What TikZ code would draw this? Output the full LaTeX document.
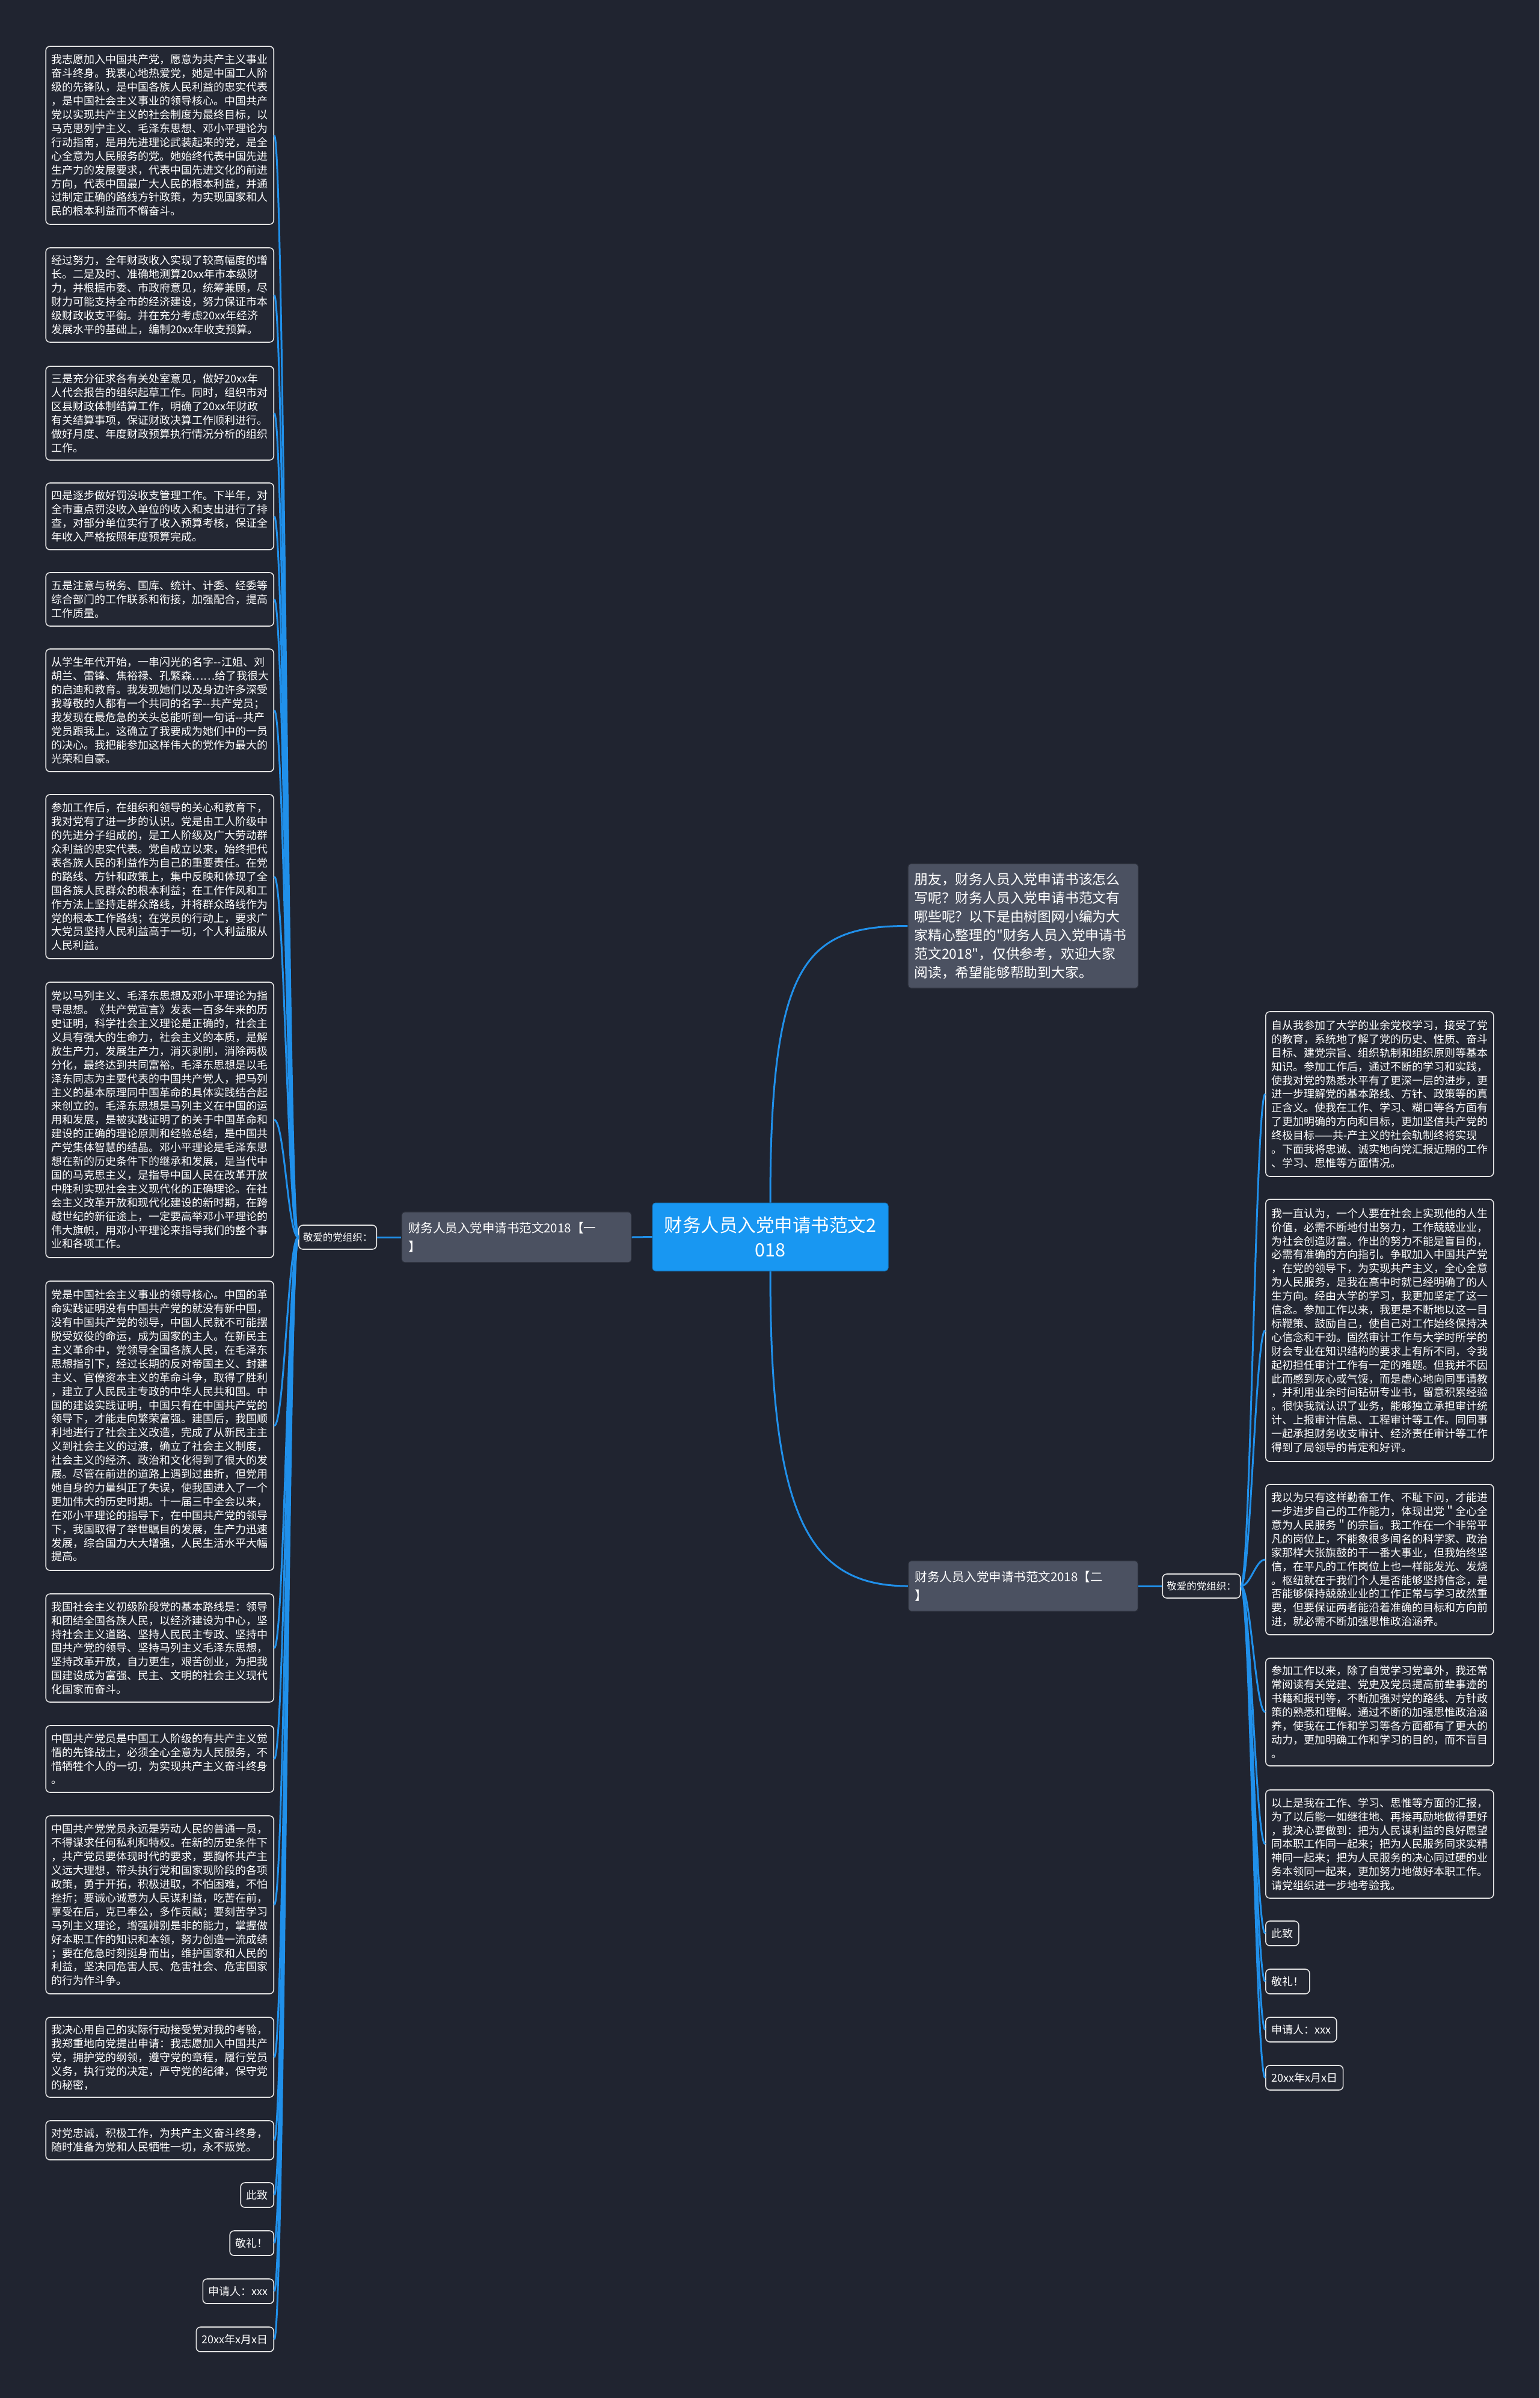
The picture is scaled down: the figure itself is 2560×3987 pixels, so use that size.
\documentclass[tikz,border=0pt]{standalone}
\usepackage{fontspec}
\setmainfont{Noto Sans CJK SC}
\newfontfamily\cjkfont{Noto Sans CJK SC}
\definecolor{bgcol}{HTML}{202430}
\definecolor{leaffill}{HTML}{232733}
\definecolor{leafline}{HTML}{E4E4E4}
\definecolor{branchgray}{HTML}{4B5161}
\definecolor{branchline}{HTML}{2B2F3A}
\definecolor{mainblue}{HTML}{1897F2}
\definecolor{linkblue}{HTML}{2090EA}
\tikzset{
  leaf/.style={draw=leafline, fill=leaffill, line width=1.6pt, rounded corners=7pt,
    text=white, font=\cjkfont\fontsize{18pt}{22.9pt}\selectfont,
    inner xsep=9.5pt, inner ysep=0pt, minimum height=41pt},
  para/.style={leaf, text width=360pt, align=left},
  dear/.style={leaf, font=\cjkfont\fontsize{16.5pt}{20pt}\selectfont, inner xsep=7pt, minimum height=40pt},
  branch/.style={draw=branchline, fill=branchgray, line width=1.2pt, rounded corners=5pt,
    text=white, font=\cjkfont\fontsize{20.5pt}{31pt}\selectfont,
    text width=360pt, align=left, inner xsep=11pt, inner ysep=0pt, minimum height=84pt},
  intro/.style={branch, font=\cjkfont\fontsize{22.8pt}{31pt}\selectfont,
    text width=362pt, inner xsep=10.5pt, minimum height=207pt},
  root/.style={draw=mainblue!80!black, fill=mainblue, line width=1pt, rounded corners=5pt,
    text=white, font=\cjkfont\fontsize{30.5pt}{40.6pt}\selectfont,
    text width=370pt, align=center, inner xsep=11pt, inner ysep=0pt, minimum height=113pt},
  link/.style={draw=linkblue, line width=3pt}
}
\begin{document}
\begin{tikzpicture}[x=1pt, y=-1pt]
\fill[bgcol] (0,0) rectangle (2560,3987);
\useasboundingbox (0,0) rectangle (2560,3987);

% centre and branches
\node[root] (center) at (1281,2056.5) {财务人员入党申请书范文2\\018};
\node[branch] (b1) at (859,2057) {财务人员入党申请书范文2018【一\\】};
\node[dear] (dear1) at (561.5,2057) {敬爱的党组织：};
\node[intro] (intro) at (1701.5,1539.5) {朋友，财务人员入党申请书该怎么\\写呢？财务人员入党申请书范文有\\哪些呢？以下是由树图网小编为大\\家精心整理的"财务人员入党申请书\\范文2018"，仅供参考，欢迎大家\\阅读，希望能够帮助到大家。};
\node[branch] (b2) at (1701.5,2637) {财务人员入党申请书范文2018【二\\】};
\node[dear] (dear2) at (1998,2637) {敬爱的党组织：};

% left leaves
\node[para, anchor=east, minimum height=296pt] (l1) at (456,225) {我志愿加入中国共产党，愿意为共产主义事业\\奋斗终身。我衷心地热爱党，她是中国工人阶\\级的先锋队，是中国各族人民利益的忠实代表\\，是中国社会主义事业的领导核心。中国共产\\党以实现共产主义的社会制度为最终目标，以\\马克思列宁主义、毛泽东思想、邓小平理论为\\行动指南，是用先进理论武装起来的党，是全\\心全意为人民服务的党。她始终代表中国先进\\生产力的发展要求，代表中国先进文化的前进\\方向，代表中国最广大人民的根本利益，并通\\过制定正确的路线方针政策，为实现国家和人\\民的根本利益而不懈奋斗。};
\node[para, anchor=east, minimum height=157pt] (l2) at (456,490.5) {经过努力，全年财政收入实现了较高幅度的增\\长。二是及时、准确地测算20xx年市本级财\\力，并根据市委、市政府意见，统筹兼顾，尽\\财力可能支持全市的经济建设，努力保证市本\\级财政收支平衡。并在充分考虑20xx年经济\\发展水平的基础上，编制20xx年收支预算。};
\node[para, anchor=east, minimum height=156pt] (l3) at (456,687) {三是充分征求各有关处室意见，做好20xx年\\人代会报告的组织起草工作。同时，组织市对\\区县财政体制结算工作，明确了20xx年财政\\有关结算事项，保证财政决算工作顺利进行。\\做好月度、年度财政预算执行情况分析的组织\\工作。};
\node[para, anchor=east, minimum height=111pt] (l4) at (456,858.5) {四是逐步做好罚没收支管理工作。下半年，对\\全市重点罚没收入单位的收入和支出进行了排\\查，对部分单位实行了收入预算考核，保证全\\年收入严格按照年度预算完成。};
\node[para, anchor=east, minimum height=89pt] (l5) at (456,996.5) {五是注意与税务、国库、统计、计委、经委等\\综合部门的工作联系和衔接，加强配合，提高\\工作质量。};
\node[para, anchor=east, minimum height=204pt] (l6) at (456,1181) {从学生年代开始，一串闪光的名字-{}-江姐、刘\\胡兰、雷锋、焦裕禄、孔繁森……给了我很大\\的启迪和教育。我发现她们以及身边许多深受\\我尊敬的人都有一个共同的名字-{}-共产党员；\\我发现在最危急的关头总能听到一句话-{}-共产\\党员跟我上。这确立了我要成为她们中的一员\\的决心。我把能参加这样伟大的党作为最大的\\光荣和自豪。};
\node[para, anchor=east, minimum height=273pt] (l7) at (456,1457.5) {参加工作后，在组织和领导的关心和教育下，\\我对党有了进一步的认识。党是由工人阶级中\\的先进分子组成的，是工人阶级及广大劳动群\\众利益的忠实代表。党自成立以来，始终把代\\表各族人民的利益作为自己的重要责任。在党\\的路线、方针和政策上，集中反映和体现了全\\国各族人民群众的根本利益；在工作作风和工\\作方法上坚持走群众路线，并将群众路线作为\\党的根本工作路线；在党员的行动上，要求广\\大党员坚持人民利益高于一切，个人利益服从\\人民利益。};
\node[para, anchor=east, minimum height=458pt] (l8) at (456,1862) {党以马列主义、毛泽东思想及邓小平理论为指\\导思想。《共产党宣言》发表一百多年来的历\\史证明，科学社会主义理论是正确的，社会主\\义具有强大的生命力，社会主义的本质，是解\\放生产力，发展生产力，消灭剥削，消除两极\\分化，最终达到共同富裕。毛泽东思想是以毛\\泽东同志为主要代表的中国共产党人，把马列\\主义的基本原理同中国革命的具体实践结合起\\来创立的。毛泽东思想是马列主义在中国的运\\用和发展，是被实践证明了的关于中国革命和\\建设的正确的理论原则和经验总结，是中国共\\产党集体智慧的结晶。邓小平理论是毛泽东思\\想在新的历史条件下的继承和发展，是当代中\\国的马克思主义，是指导中国人民在改革开放\\中胜利实现社会主义现代化的正确理论。在社\\会主义改革开放和现代化建设的新时期，在跨\\越世纪的新征途上，一定要高举邓小平理论的\\伟大旗帜，用邓小平理论来指导我们的整个事\\业和各项工作。};
\node[para, anchor=east, minimum height=481pt] (l9) at (456,2370.5) {党是中国社会主义事业的领导核心。中国的革\\命实践证明没有中国共产党的就没有新中国，\\没有中国共产党的领导，中国人民就不可能摆\\脱受奴役的命运，成为国家的主人。在新民主\\主义革命中，党领导全国各族人民，在毛泽东\\思想指引下，经过长期的反对帝国主义、封建\\主义、官僚资本主义的革命斗争，取得了胜利\\，建立了人民民主专政的中华人民共和国。中\\国的建设实践证明，中国只有在中国共产党的\\领导下，才能走向繁荣富强。建国后，我国顺\\利地进行了社会主义改造，完成了从新民主主\\义到社会主义的过渡，确立了社会主义制度，\\社会主义的经济、政治和文化得到了很大的发\\展。尽管在前进的道路上遇到过曲折，但党用\\她自身的力量纠正了失误，使我国进入了一个\\更加伟大的历史时期。十一届三中全会以来，\\在邓小平理论的指导下，在中国共产党的领导\\下，我国取得了举世瞩目的发展，生产力迅速\\发展，综合国力大大增强，人民生活水平大幅\\提高。};
\node[para, anchor=east, minimum height=180pt] (l10) at (456,2740) {我国社会主义初级阶段党的基本路线是：领导\\和团结全国各族人民，以经济建设为中心，坚\\持社会主义道路、坚持人民民主专政、坚持中\\国共产党的领导、坚持马列主义毛泽东思想，\\坚持改革开放，自力更生，艰苦创业，为把我\\国建设成为富强、民主、文明的社会主义现代\\化国家而奋斗。};
\node[para, anchor=east, minimum height=111pt] (l11) at (456,2924.5) {中国共产党员是中国工人阶级的有共产主义觉\\悟的先锋战士，必须全心全意为人民服务，不\\惜牺牲个人的一切，为实现共产主义奋斗终身\\。};
\node[para, anchor=east, minimum height=296pt] (l12) at (456,3167) {中国共产党党员永远是劳动人民的普通一员，\\不得谋求任何私利和特权。在新的历史条件下\\，共产党员要体现时代的要求，要胸怀共产主\\义远大理想，带头执行党和国家现阶段的各项\\政策，勇于开拓，积极进取，不怕困难，不怕\\挫折；要诚心诚意为人民谋利益，吃苦在前，\\享受在后，克已奉公，多作贡献；要刻苦学习\\马列主义理论，增强辨别是非的能力，掌握做\\好本职工作的知识和本领，努力创造一流成绩\\；要在危急时刻挺身而出，维护国家和人民的\\利益，坚决同危害人民、危害社会、危害国家\\的行为作斗争。};
\node[para, anchor=east, minimum height=133pt] (l13) at (456,3420.5) {我决心用自己的实际行动接受党对我的考验，\\我郑重地向党提出申请：我志愿加入中国共产\\党，拥护党的纲领，遵守党的章程，履行党员\\义务，执行党的决定，严守党的纪律，保守党\\的秘密，};
\node[para, anchor=east, minimum height=65pt] (l14) at (456,3558.5) {对党忠诚，积极工作，为共产主义奋斗终身，\\随时准备为党和人民牺牲一切，永不叛党。};
\node[leaf, anchor=east] (ls1) at (456,3649.5) {此致};
\node[leaf, anchor=east] (ls2) at (456,3729.5) {敬礼！};
\node[leaf, anchor=east] (ls3) at (456,3809.5) {申请人：xxx};
\node[leaf, anchor=east] (ls4) at (456,3889.5) {20xx年x月x日};

% right leaves
\node[para, anchor=west, minimum height=274pt] (r1) at (2104,1819) {自从我参加了大学的业余党校学习，接受了党\\的教育，系统地了解了党的历史、性质、奋斗\\目标、建党宗旨、组织轨制和组织原则等基本\\知识。参加工作后，通过不断的学习和实践，\\使我对党的熟悉水平有了更深一层的进步，更\\进一步理解党的基本路线、方针、政策等的真\\正含义。使我在工作、学习、糊口等各方面有\\了更加明确的方向和目标，更加坚信共产党的\\终极目标——共-产主义的社会轨制终将实现\\。下面我将忠诚、诚实地向党汇报近期的工作\\、学习、思惟等方面情况。};
\node[para, anchor=west, minimum height=436pt] (r2) at (2104,2212) {我一直认为，一个人要在社会上实现他的人生\\价值，必需不断地付出努力，工作兢兢业业，\\为社会创造财富。作出的努力不能是盲目的，\\必需有准确的方向指引。争取加入中国共产党\\，在党的领导下，为实现共产主义，全心全意\\为人民服务，是我在高中时就已经明确了的人\\生方向。经由大学的学习，我更加坚定了这一\\信念。参加工作以来，我更是不断地以这一目\\标鞭策、鼓励自己，使自己对工作始终保持决\\心信念和干劲。固然审计工作与大学时所学的\\财会专业在知识结构的要求上有所不同，令我\\起初担任审计工作有一定的难题。但我并不因\\此而感到灰心或气馁，而是虚心地向同事请教\\，并利用业余时间钻研专业书，留意积累经验\\。很快我就认识了业务，能够独立承担审计统\\计、上报审计信息、工程审计等工作。同同事\\一起承担财务收支审计、经济责任审计等工作\\得到了局领导的肯定和好评。};
\node[para, anchor=west, minimum height=250pt] (r3) at (2104,2593) {我以为只有这样勤奋工作、不耻下问，才能进\\一步进步自己的工作能力，体现出党＂全心全\\意为人民服务＂的宗旨。我工作在一个非常平\\凡的岗位上，不能象很多闻名的科学家、政治\\家那样大张旗鼓的干一番大事业，但我始终坚\\信，在平凡的工作岗位上也一样能发光、发烧\\。枢纽就在于我们个人是否能够坚持信念，是\\否能够保持兢兢业业的工作正常与学习故然重\\要，但要保证两者能沿着准确的目标和方向前\\进，就必需不断加强思惟政治涵养。};
\node[para, anchor=west, minimum height=179pt] (r4) at (2104,2846.5) {参加工作以来，除了自觉学习党章外，我还常\\常阅读有关党建、党史及党员提高前辈事迹的\\书籍和报刊等，不断加强对党的路线、方针政\\策的熟悉和理解。通过不断的加强思惟政治涵\\养，使我在工作和学习等各方面都有了更大的\\动力，更加明确工作和学习的目的，而不盲目\\。};
\node[para, anchor=west, minimum height=180pt] (r5) at (2104,3066) {以上是我在工作、学习、思惟等方面的汇报，\\为了以后能一如继往地、再接再励地做得更好\\，我决心要做到：把为人民谋利益的良好愿望\\同本职工作同一起来；把为人民服务同求实精\\神同一起来；把为人民服务的决心同过硬的业\\务本领同一起来，更加努力地做好本职工作。\\请党组织进一步地考验我。};
\node[leaf, anchor=west] (rs1) at (2104,3214.5) {此致};
\node[leaf, anchor=west] (rs2) at (2104,3294.5) {敬礼！};
\node[leaf, anchor=west] (rs3) at (2104,3374.5) {申请人：xxx};
\node[leaf, anchor=west] (rs4) at (2104,3454.5) {20xx年x月x日};

% connectors
\draw[link] (center.west) -- (b1.east);
\draw[link] (b1.west) -- (dear1.east);
\draw[link] (center.north) .. controls +(0,-400) and +(-170,0) .. (intro.west);
\draw[link] (center.south) .. controls +(0,400) and +(-170,0) .. (b2.west);
\draw[link] (b2.east) -- (dear2.west);
\foreach \n in {l1,l2,l3,l4,l5,l6,l7,l8,l9,l10,l11,l12,l13,l14,ls1,ls2,ls3,ls4}
  \draw[link] (dear1.west) .. controls +(-17,0) and +(17,0) .. (\n.east);
\foreach \n in {r1,r2,r3,r4,r5,rs1,rs2,rs3,rs4}
  \draw[link] (dear2.east) .. controls +(16,0) and +(-16,0) .. (\n.west);
\end{tikzpicture}
\end{document}
